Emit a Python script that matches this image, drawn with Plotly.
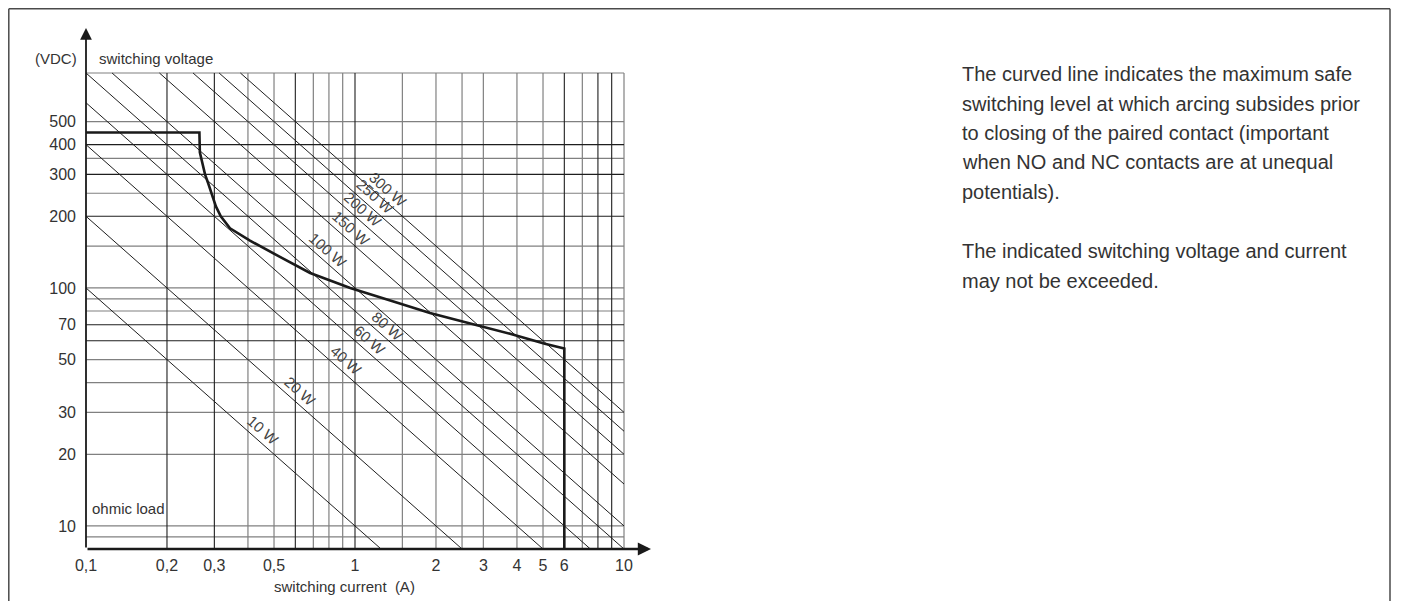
import math

import plotly.graph_objects as go

# The page body keeps its default 8px margin, so the figure is drawn 8px
# in from the window corner. All positions below are window pixels.
PAGE_OFFSET = 8
FIG_W, FIG_H = 1401 - PAGE_OFFSET, 601 - PAGE_OFFSET
PX_L, PX_R, PX_T, PX_B = 86, 651, 28, 549  # plot area (window pixels)
PX_PER_DEC_X, PX_PER_DEC_Y = 269, 238

I_MIN, I_MAX = 0.1, 10
V_MIN, V_MAX = 8, 800

POWER_W = [10, 20, 40, 60, 80, 100, 150, 200, 250, 300]
# current at which each power label sits along its line
POWER_LABEL_I = [0.43, 0.59, 0.875, 1.075, 1.25, 0.75, 0.913, 1.01, 1.12, 1.25]

# maximum safe switching curve (A, VDC)
CURVE_I = [0.1, 0.264, 0.265, 0.2705, 0.277, 0.285, 0.293, 0.304, 0.317,
           0.343, 0.407, 0.46, 0.526, 0.681, 0.96, 1.38, 1.9, 2.45, 3.77,
           5.08, 6.0, 6.0]
CURVE_V = [450, 450, 371, 335, 300, 274, 250, 220, 200,
           178, 158, 146, 135, 115.6, 100, 88, 78.5, 72.8, 64.2,
           58.3, 55.6, 8]

GRID_I_DARK = [0.2, 0.3, 0.6, 1, 6, 8, 9]
GRID_I_GRAY = [0.4, 0.5, 0.7, 0.8, 0.9, 1.5, 2, 2.5, 3, 4, 5, 7, 10]
GRID_V_DARK = [400, 300, 200, 70, 60]
GRID_V_GRAY = [800, 500, 350, 250, 150, 100, 90, 80, 50, 40, 30, 20, 10, 9]

X_TICKS = [0.1, 0.2, 0.3, 0.5, 1, 2, 3, 4, 5, 6, 10]
X_TICK_TEXT = ["0,1", "0,2", "0,3", "0,5", "1", "2", "3", "4", "5", "6", "10"]
Y_TICKS = [10, 20, 30, 50, 70, 100, 200, 300, 400, 500]

NOTE_LINES = [
    "The curved line indicates the maximum safe",
    "switching level at which arcing subsides prior",
    "to closing of the paired contact (important",
    "when NO and NC contacts are at unequal",
    "potentials).",
    "",
    "The indicated switching voltage and current",
    "may not be exceeded.",
]

FONT = "Liberation Sans, Arial, Helvetica, sans-serif"
TEXT_COLOR = "#333333"

x_range = [math.log10(I_MIN), math.log10(I_MIN) + (PX_R - PX_L) / PX_PER_DEC_X]
y_range = [math.log10(V_MIN), math.log10(V_MIN) + (PX_B - PX_T) / PX_PER_DEC_Y]


def px_x(px):
    return (px - PX_L) / (PX_R - PX_L)


def px_y(py):
    return (PX_B - py) / (PX_B - PX_T)


def grid_trace(currents, voltages, color, width):
    xs, ys = [], []
    for i in currents:
        xs += [i, i, None]
        ys += [V_MIN, V_MAX, None]
    for v in voltages:
        xs += [I_MIN, I_MAX, None]
        ys += [v, v, None]
    return go.Scatter(x=xs, y=ys, mode="lines", hoverinfo="skip",
                      line={"color": color, "width": width}, showlegend=False)


fig = go.Figure()
fig.add_trace(grid_trace(GRID_I_GRAY, GRID_V_GRAY, "#808080", 1.2))
fig.add_trace(grid_trace(GRID_I_DARK, GRID_V_DARK, "#1e1e1e", 1.1))

# constant power lines clipped to the grid box
pw_x, pw_y = [], []
for p in POWER_W:
    i0 = max(I_MIN, p / V_MAX)
    i1 = min(I_MAX, p / V_MIN)
    pw_x += [i0, i1, None]
    pw_y += [p / i0, p / i1, None]
fig.add_trace(go.Scatter(x=pw_x, y=pw_y, mode="lines", hoverinfo="skip",
                         line={"color": "#1e1e1e", "width": 1.0}, showlegend=False))

fig.add_trace(go.Scatter(x=CURVE_I, y=CURVE_V, mode="lines", showlegend=False,
                         line={"color": "#1a1a1a", "width": 2.6}))

annotations = []
for p, i in zip(POWER_W, POWER_LABEL_I):
    annotations.append(dict(
        x=math.log10(i), y=math.log10(p / i), xref="x", yref="y",
        text=f"{p} W", textangle=41.6, showarrow=False,
        xshift=7, yshift=8,
        font={"size": 15, "color": "#444444", "family": FONT},
    ))

# axis arrows
annotations.append(dict(
    x=x_range[0], y=y_range[1], ax=x_range[0], ay=y_range[0],
    xref="x", yref="y", axref="x", ayref="y", text="",
    showarrow=True, arrowhead=2, arrowsize=1.3, arrowwidth=1.8,
    arrowcolor="#1a1a1a",
))
annotations.append(dict(
    x=x_range[1], y=y_range[0], ax=x_range[0], ay=y_range[0],
    xref="x", yref="y", axref="x", ayref="y", text="",
    showarrow=True, arrowhead=2, arrowsize=1.1, arrowwidth=2.4,
    arrowcolor="#1a1a1a",
))

small = {"size": 15, "color": TEXT_COLOR, "family": FONT}
tick_font = {"size": 16, "color": TEXT_COLOR, "family": FONT}
annotations += [
    dict(x=px_x(79), y=px_y(58), xref="paper", yref="paper", text="(VDC)",
         xanchor="right", yanchor="middle", showarrow=False, font=small),
    dict(x=px_x(97), y=px_y(58), xref="paper", yref="paper",
         text="switching voltage", xanchor="left", yanchor="middle",
         showarrow=False, font=small),
    dict(x=px_x(90), y=px_y(508), xref="paper", yref="paper", text="ohmic load",
         xanchor="left", yanchor="middle", showarrow=False, font=small),
    dict(x=px_x(344), y=px_y(586), xref="paper", yref="paper",
         text="switching current  (A)", xanchor="center", yanchor="middle",
         showarrow=False, font=small),
]

note_font = {"size": 20, "color": TEXT_COLOR, "family": FONT}
line_y = 74
for line in NOTE_LINES:
    if line:
        annotations.append(dict(
            x=px_x(960), y=px_y(line_y), xref="paper", yref="paper", text=line,
            xanchor="left", yanchor="middle", showarrow=False, font=note_font,
        ))
    line_y += 29.5

# outer frame (open at the bottom)
frame = {"color": "#4a4a4a", "width": 1.5}
fl, ft, fr = PAGE_OFFSET + 0.8, PAGE_OFFSET + 0.8, 1390
shapes = [
    dict(type="line", xref="paper", yref="paper", x0=px_x(fl), x1=px_x(fl),
         y0=px_y(ft), y1=px_y(620), line=frame),
    dict(type="line", xref="paper", yref="paper", x0=px_x(fl), x1=px_x(fr),
         y0=px_y(ft), y1=px_y(ft), line=frame),
    dict(type="line", xref="paper", yref="paper", x0=px_x(fr), x1=px_x(fr),
         y0=px_y(ft), y1=px_y(620), line=frame),
]

fig.update_xaxes(
    type="log", range=x_range, tickvals=X_TICKS, ticktext=X_TICK_TEXT,
    showgrid=False, zeroline=False, showline=False, ticks="",
    ticklabelstandoff=5, tickfont=tick_font,
)
fig.update_yaxes(
    type="log", range=y_range, tickvals=Y_TICKS,
    ticktext=[str(v) for v in Y_TICKS],
    showgrid=False, zeroline=False, showline=False, ticks="",
    ticklabelstandoff=9, tickfont=tick_font,
)
fig.update_layout(
    width=FIG_W, height=FIG_H, autosize=False,
    margin={"l": PX_L - PAGE_OFFSET, "r": FIG_W - (PX_R - PAGE_OFFSET),
            "t": PX_T - PAGE_OFFSET, "b": FIG_H - (PX_B - PAGE_OFFSET), "pad": 0},
    plot_bgcolor="white", paper_bgcolor="white",
    annotations=annotations, shapes=shapes, showlegend=False,
    font={"family": FONT},
)

fig.write_html("out.html")
